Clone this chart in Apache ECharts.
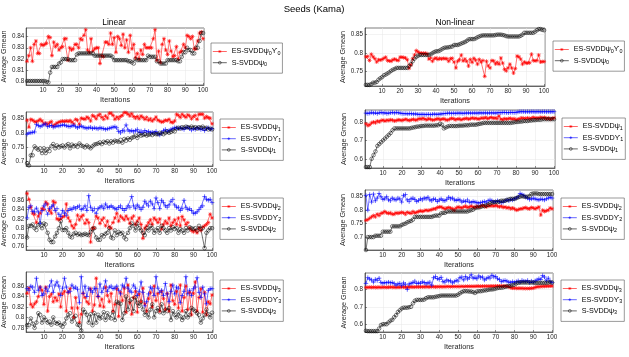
<!DOCTYPE html>
<html>
<head>
<meta charset="utf-8">
<title>Seeds (Kama)</title>
<script src="https://cdn.jsdelivr.net/npm/echarts@6/dist/echarts.min.js"></script>
<style>
    body { margin: 0; background: #fff; }
    #chart_div { width: 629px; height: 357px; }
</style>
</head>
<body>
<div id="chart_div"></div>
<script>
// x ticks (iterations)
const iterTicks = [10, 20, 30, 40, 50, 60, 70, 80, 90, 100];

// y tick labels for each panel
const yTicksA = [0.8, 0.81, 0.82, 0.83, 0.84];
const yTicksB = [0.75, 0.8, 0.85];
const yTicksC = [0.7, 0.75, 0.8, 0.85];
const yTicksD = [0.6, 0.7, 0.8];
const yTicksE = [0.76, 0.78, 0.8, 0.82, 0.84, 0.86];
const yTicksF = [0.7, 0.75, 0.8, 0.85];
const yTicksG = [0.78, 0.8, 0.82, 0.84, 0.86];
const yTicksH = [0.6, 0.7, 0.8];

// Linear, psi0
const linPsi0ES = [.818,.823,.830,.818,.833,.836,.825,.825,.833,.832,
    .833,.834,.840,.839,.823,.835,.831,.833,.828,.830,
    .831,.838,.838,.819,.830,.828,.829,.833,.833,.830,
    .838,.837,.841,.846,.828,.826,.838,.827,.829,.830,
    .830,.816,.823,.822,.835,.835,.833,.843,.833,.839,
    .826,.840,.838,.832,.842,.830,.837,.826,.841,.829,
    .833,.821,.825,.820,.828,.824,.833,.830,.830,.830,
    .830,.838,.846,.819,.827,.817,.833,.838,.828,.824,
    .836,.827,.822,.823,.831,.820,.826,.827,.833,.830,
    .841,.840,.838,.840,.829,.829,.836,.843,.844,.838];
const linPsi0S = [.8005,.8005,.8005,.8005,.8005,.8005,.8005,.8005,.8005,.8005,
    .8005,.7998,.7993,.808,.813,.813,.813,.813,.816,.817,
    .820,.820,.820,.820,.819,.819,.819,.819,.824,.825,
    .825,.825,.825,.825,.825,.825,.825,.825,.823,.823,
    .823,.823,.823,.823,.823,.823,.823,.823,.822,.819,
    .819,.819,.819,.819,.819,.819,.819,.818,.818,.817,
    .816,.820,.819,.819,.819,.819,.819,.819,.823,.822,
    .822,.822,.822,.818,.818,.816,.816,.816,.816,.819,
    .819,.819,.819,.819,.819,.818,.818,.822,.826,.826,
    .830,.828,.828,.825,.825,.830,.830,.836,.843,.843];

// Non-linear, psi0
const nlPsi0ES = [.790,.791,.780,.797,.790,.785,.776,.782,.781,.783,
    .786,.789,.780,.779,.778,.782,.784,.781,.780,.789,
    .789,.788,.787,.782,.759,.768,.785,.795,.807,.803,
    .800,.800,.799,.800,.798,.784,.787,.778,.785,.787,
    .783,.786,.784,.786,.785,.785,.778,.785,.786,.776,
    .760,.778,.782,.795,.779,.784,.778,.765,.783,.775,
    .786,.781,.770,.783,.776,.780,.737,.778,.765,.760,
    .780,.779,.771,.775,.770,.787,.773,.756,.752,.760,
    .770,.760,.746,.758,.792,.790,.784,.770,.776,.773,
    .773,.774,.797,.780,.779,.780,.795,.776,.777,.777];
const nlPsi0S = [.714,.714,.714,.716,.720,.720,.722,.728,.732,.735,
    .740,.742,.745,.748,.752,.755,.757,.760,.760,.760,
    .760,.760,.760,.760,.765,.770,.778,.785,.790,.793,
    .795,.795,.795,.795,.795,.795,.797,.800,.803,.805,
    .805,.807,.810,.813,.815,.815,.816,.817,.818,.822,
    .822,.822,.824,.826,.828,.830,.833,.837,.838,.838,
    .838,.840,.843,.845,.847,.848,.848,.848,.848,.848,
    .848,.848,.849,.850,.850,.850,.849,.848,.846,.845,
    .845,.845,.845,.845,.845,.845,.847,.850,.855,.855,
    .855,.855,.855,.855,.858,.862,.865,.865,.863,.862];

// Linear, psi1
const linPsi1ES = [.845,.820,.848,.845,.840,.838,.843,.848,.842,.832,
    .835,.830,.836,.840,.825,.830,.835,.838,.840,.842,
    .840,.843,.840,.844,.838,.832,.848,.845,.830,.852,
    .850,.848,.856,.852,.842,.862,.858,.850,.862,.866,
    .855,.848,.860,.852,.870,.870,.862,.848,.856,.850,
    .858,.862,.872,.872,.866,.860,.868,.858,.852,.858,
    .850,.860,.855,.848,.855,.845,.850,.842,.848,.856,
    .845,.842,.838,.840,.845,.843,.848,.838,.836,.842,
    .866,.862,.855,.866,.860,.855,.864,.860,.850,.858,
    .862,.848,.866,.866,.866,.852,.858,.854,.852,.832];
const linPsi1T = [.795,.800,.800,.802,.803,.830,.826,.822,.825,.830,
    .832,.822,.825,.826,.820,.822,.825,.824,.826,.828,
    .828,.825,.823,.822,.825,.827,.822,.818,.822,.824,
    .820,.818,.816,.818,.820,.815,.818,.816,.814,.818,
    .816,.815,.812,.814,.816,.818,.820,.822,.818,.805,
    .800,.808,.806,.828,.810,.805,.808,.804,.808,.812,
    .802,.806,.800,.808,.802,.805,.800,.802,.800,.805,
    .796,.792,.800,.808,.812,.805,.808,.812,.815,.818,
    .818,.815,.818,.815,.812,.818,.820,.815,.810,.815,
    .812,.818,.815,.812,.815,.808,.815,.818,.812,.815];
const linPsi1S = [.692,.684,.720,.720,.752,.745,.740,.745,.728,.745,
    .728,.742,.735,.752,.760,.745,.755,.748,.752,.755,
    .748,.755,.760,.745,.758,.752,.755,.750,.762,.755,
    .752,.748,.755,.750,.745,.752,.758,.760,.762,.766,
    .760,.768,.765,.770,.762,.770,.765,.772,.770,.768,
    .775,.765,.778,.772,.780,.775,.782,.785,.790,.782,
    .795,.790,.792,.795,.790,.793,.795,.792,.797,.795,
    .795,.800,.798,.795,.800,.805,.800,.803,.808,.805,
    .815,.818,.815,.820,.818,.822,.820,.818,.822,.818,
    .820,.815,.820,.818,.822,.815,.818,.812,.815,.812];

// Non-linear, psi1
const nlPsi1ES = [.790,.780,.785,.795,.800,.795,.805,.800,.808,.810,
    .805,.810,.808,.812,.810,.805,.808,.812,.810,.808,
    .812,.815,.810,.808,.812,.815,.810,.812,.818,.815,
    .820,.815,.812,.818,.815,.810,.812,.815,.818,.812,
    .815,.818,.812,.810,.815,.820,.818,.812,.815,.818,
    .812,.815,.818,.820,.815,.818,.822,.818,.820,.815,
    .818,.822,.820,.825,.818,.822,.825,.820,.822,.818,
    .832,.815,.812,.818,.815,.818,.820,.815,.818,.812,
    .815,.818,.822,.820,.818,.822,.818,.820,.825,.822,
    .820,.822,.825,.822,.825,.818,.822,.815,.820,.822];
const nlPsi1T = [.848,.846,.848,.852,.848,.850,.846,.850,.852,.848,
    .850,.846,.848,.850,.852,.848,.852,.850,.848,.846,
    .845,.846,.844,.846,.845,.843,.844,.842,.841,.841,
    .842,.840,.841,.842,.840,.842,.843,.841,.842,.843,
    .844,.846,.846,.848,.848,.846,.848,.846,.848,.848,
    .848,.846,.848,.848,.849,.848,.848,.849,.848,.848,
    .850,.848,.849,.850,.848,.850,.849,.850,.848,.850,
    .851,.850,.852,.852,.851,.850,.852,.852,.851,.852,
    .854,.856,.856,.856,.855,.856,.855,.856,.856,.855,
    .856,.856,.855,.856,.856,.855,.856,.855,.856,.856];
const nlPsi1S = [.555,.555,.555,.600,.620,.640,.670,.680,.690,.700,
    .710,.720,.730,.740,.755,.765,.765,.765,.765,.765,
    .765,.765,.765,.765,.768,.770,.772,.775,.775,.778,
    .778,.780,.780,.780,.780,.780,.780,.782,.782,.790,
    .785,.765,.770,.775,.778,.778,.778,.778,.778,.780,
    .780,.780,.782,.782,.782,.785,.785,.785,.785,.788,
    .790,.792,.795,.795,.795,.795,.795,.795,.795,.795,
    .795,.795,.795,.795,.795,.795,.795,.796,.798,.800,
    .800,.802,.802,.805,.805,.805,.808,.808,.810,.810,
    .812,.812,.812,.815,.815,.815,.815,.815,.815,.815];

// Linear, psi2
const linPsi2ES = [.875,.862,.845,.832,.830,.812,.826,.832,.842,.840,
    .856,.852,.838,.832,.858,.855,.820,.818,.820,.824,
    .826,.852,.822,.815,.805,.800,.808,.828,.818,.825,
    .828,.810,.818,.812,.770,.800,.800,.826,.822,.810,
    .818,.822,.805,.815,.802,.800,.812,.822,.832,.815,
    .826,.822,.818,.826,.820,.810,.822,.826,.808,.815,
    .822,.808,.778,.800,.805,.812,.818,.808,.822,.818,
    .812,.820,.798,.808,.815,.810,.822,.805,.812,.818,
    .808,.822,.805,.825,.818,.808,.812,.800,.795,.792,
    .795,.790,.800,.795,.802,.805,.808,.812,.830,.822];
const linPsi2T = [.822,.845,.848,.836,.835,.843,.835,.810,.838,.848,
    .852,.830,.842,.846,.850,.838,.842,.830,.825,.838,
    .832,.828,.838,.842,.840,.845,.842,.846,.848,.840,
    .842,.848,.838,.870,.845,.838,.842,.832,.842,.845,
    .848,.842,.852,.845,.845,.848,.845,.842,.840,.845,
    .848,.842,.838,.842,.848,.845,.868,.848,.842,.850,
    .845,.840,.845,.858,.852,.848,.858,.852,.842,.865,
    .855,.842,.860,.855,.848,.845,.850,.858,.862,.850,
    .845,.845,.838,.842,.860,.845,.840,.842,.838,.832,
    .832,.835,.840,.845,.848,.868,.862,.860,.862,.855];
const linPsi2S = [.780,.805,.805,.808,.800,.796,.806,.810,.800,.810,
    .808,.790,.775,.770,.770,.782,.790,.800,.815,.796,
    .796,.800,.790,.782,.780,.788,.790,.786,.788,.785,
    .786,.788,.786,.785,.792,.798,.800,.780,.775,.775,
    .785,.782,.788,.790,.800,.780,.778,.795,.785,.792,
    .788,.790,.780,.776,.790,.800,.810,.805,.795,.810,
    .800,.795,.790,.785,.800,.795,.805,.800,.790,.795,
    .800,.790,.805,.800,.795,.790,.800,.795,.802,.798,
    .800,.790,.798,.795,.790,.800,.795,.802,.800,.798,
    .800,.795,.805,.798,.800,.757,.790,.795,.800,.800];

// Non-linear, psi2
const nlPsi2ES = [.762,.765,.770,.775,.780,.775,.785,.780,.788,.790,
    .795,.790,.788,.790,.785,.785,.790,.788,.790,.792,
    .790,.785,.792,.790,.788,.795,.790,.792,.795,.798,
    .795,.798,.800,.798,.800,.802,.805,.805,.810,.812,
    .812,.808,.805,.808,.810,.808,.805,.800,.808,.812,
    .810,.808,.812,.815,.810,.812,.815,.812,.810,.815,
    .812,.815,.818,.815,.812,.818,.815,.818,.815,.818,
    .815,.812,.815,.810,.812,.808,.810,.805,.808,.805,
    .800,.802,.805,.805,.808,.810,.806,.805,.810,.808,
    .805,.808,.812,.782,.800,.795,.798,.800,.808,.805];
const nlPsi2T = [.855,.800,.858,.830,.860,.835,.845,.862,.850,.840,
    .842,.850,.838,.835,.845,.840,.838,.845,.842,.830,
    .855,.858,.838,.832,.842,.845,.840,.832,.836,.842,
    .838,.845,.842,.848,.838,.835,.842,.840,.832,.838,
    .842,.836,.835,.840,.848,.842,.845,.838,.836,.840,
    .838,.830,.835,.832,.838,.830,.828,.832,.830,.828,
    .826,.828,.830,.832,.828,.835,.838,.835,.830,.832,
    .835,.832,.828,.830,.835,.838,.835,.840,.838,.842,
    .845,.850,.862,.858,.855,.848,.845,.840,.842,.845,
    .842,.840,.838,.842,.840,.838,.842,.845,.848,.845];
const nlPsi2S = [.652,.700,.700,.700,.700,.705,.705,.705,.705,.720,
    .720,.720,.720,.720,.740,.740,.740,.740,.740,.745,
    .748,.750,.755,.758,.760,.765,.775,.775,.775,.775,
    .775,.775,.775,.775,.775,.775,.778,.780,.780,.780,
    .788,.790,.790,.795,.795,.795,.795,.795,.795,.795,
    .795,.795,.795,.795,.795,.798,.800,.802,.808,.810,
    .810,.812,.815,.815,.818,.820,.825,.828,.830,.830,
    .830,.832,.835,.835,.835,.838,.840,.842,.842,.842,
    .845,.848,.850,.852,.850,.850,.850,.852,.860,.862,
    .862,.862,.860,.860,.860,.860,.860,.860,.860,.860];

// Linear, psi3
const linPsi3ES = [.846,.856,.825,.820,.826,.830,.840,.858,.852,.825,
    .858,.812,.840,.845,.830,.838,.832,.845,.820,.845,
    .850,.812,.848,.855,.818,.800,.838,.818,.790,.806,
    .846,.838,.830,.826,.855,.812,.824,.875,.840,.822,
    .835,.820,.858,.842,.830,.846,.812,.825,.855,.802,
    .848,.832,.856,.810,.862,.828,.806,.838,.850,.810,
    .845,.830,.856,.826,.812,.836,.848,.820,.860,.832,
    .846,.812,.850,.836,.815,.846,.812,.862,.832,.825,
    .850,.818,.862,.812,.838,.860,.815,.848,.805,.846,
    .868,.812,.838,.855,.810,.848,.805,.830,.826,.843];
const linPsi3T = [.855,.852,.860,.858,.848,.875,.852,.858,.842,.845,
    .856,.850,.860,.870,.848,.862,.868,.860,.842,.856,
    .875,.858,.848,.850,.862,.856,.858,.854,.828,.878,
    .846,.860,.840,.856,.852,.848,.856,.855,.840,.864,
    .848,.856,.870,.850,.858,.860,.855,.856,.860,.852,
    .845,.862,.858,.875,.856,.850,.848,.862,.856,.842,
    .850,.868,.848,.822,.830,.845,.858,.855,.842,.878,
    .856,.848,.852,.842,.865,.845,.830,.850,.862,.845,
    .858,.856,.828,.842,.850,.878,.845,.852,.842,.855,
    .858,.876,.848,.838,.858,.845,.826,.852,.855,.855];
const linPsi3S = [.785,.785,.798,.788,.780,.790,.808,.805,.790,.800,
    .795,.790,.792,.786,.800,.790,.788,.790,.785,.782,
    .788,.798,.805,.808,.792,.800,.803,.786,.785,.775,
    .815,.810,.805,.790,.806,.785,.808,.790,.805,.798,
    .800,.810,.795,.808,.800,.798,.810,.795,.830,.828,
    .826,.795,.808,.840,.815,.832,.835,.812,.838,.828,
    .822,.830,.815,.805,.810,.800,.815,.825,.800,.812,
    .818,.810,.825,.808,.815,.812,.818,.795,.812,.805,
    .800,.810,.802,.795,.800,.812,.800,.805,.818,.815,
    .812,.808,.805,.790,.798,.805,.815,.806,.800,.809];

// Non-linear, psi3
const nlPsi3ES = [.812,.812,.813,.812,.813,.812,.812,.813,.812,.813,
    .813,.812,.813,.814,.813,.813,.812,.813,.813,.814,
    .814,.813,.813,.814,.815,.814,.814,.815,.815,.815,
    .815,.815,.816,.815,.815,.816,.816,.815,.816,.816,
    .816,.816,.816,.817,.817,.816,.817,.817,.817,.817,
    .817,.818,.817,.818,.818,.818,.818,.818,.818,.819,
    .819,.818,.819,.819,.819,.819,.819,.820,.819,.820,
    .820,.820,.820,.820,.820,.818,.815,.810,.808,.808,
    .807,.807,.807,.807,.806,.806,.806,.806,.807,.808,
    .812,.815,.816,.817,.818,.818,.819,.819,.820,.820];
const nlPsi3T = [.835,.868,.860,.855,.842,.858,.852,.865,.840,.835,
    .840,.838,.842,.838,.840,.835,.825,.832,.835,.822,
    .838,.830,.800,.832,.835,.840,.848,.835,.838,.836,
    .845,.840,.832,.838,.842,.825,.868,.875,.862,.858,
    .870,.845,.842,.855,.848,.850,.838,.845,.852,.848,
    .868,.872,.855,.875,.860,.868,.885,.865,.870,.862,
    .878,.868,.872,.855,.862,.870,.865,.882,.872,.875,
    .862,.858,.845,.850,.852,.848,.842,.840,.845,.840,
    .845,.850,.842,.852,.848,.846,.852,.840,.848,.842,
    .850,.855,.862,.858,.880,.872,.850,.865,.846,.840];
const nlPsi3S = [.562,.560,.560,.560,.560,.560,.560,.575,.595,.600,
    .600,.600,.610,.620,.625,.640,.652,.670,.680,.690,
    .695,.695,.695,.698,.700,.720,.735,.740,.740,.740,
    .740,.742,.750,.755,.755,.755,.755,.758,.760,.762,
    .765,.765,.765,.765,.765,.765,.765,.765,.765,.770,
    .778,.785,.790,.790,.790,.788,.788,.785,.780,.788,
    .790,.790,.792,.795,.795,.798,.800,.800,.802,.805,
    .808,.810,.810,.812,.815,.818,.820,.822,.825,.828,
    .835,.838,.840,.840,.840,.840,.840,.840,.840,.840,
    .838,.838,.838,.838,.838,.838,.838,.840,.842,.840];

const FONT = 'Liberation Sans';
const AXIS_COLOR = '#262626';

// marker styles (MATLAB r-*, b-+, k-o)
const styles = {
    red: { color: '#ff0000', fill: '#ff0000', symbol: 'path://M0,-5L0,5M-5,0L5,0M-3.6,-3.6L3.6,3.6M-3.6,3.6L3.6,-3.6', size: 4, border: 0.6 },
    blue: { color: '#0000ff', fill: '#0000ff', symbol: 'path://M0,-5L0,5M-5,0L5,0', size: 4.5, border: 0.6 },
    black: { color: '#000000', fill: 'rgba(0,0,0,0)', symbol: 'path://M5,0A5,5 0 1 1 -5,0A5,5 0 1 1 5,0Z', size: 3.6, border: 0.5 }
};

// each legend label: list of [text, subscript]
const panels = [
    { id: 'A', grid: [24, 28, 180, 57], y: [0.797, 0.8475], ticks: yTicksA, legend: [211, 43],
      series: [
        { key: 'red', data: linPsi0ES, label: [['ES-SVDDψ', '0'], ['ϒ', '0']] },
        { key: 'black', data: linPsi0S, label: [['S-SVDDψ', '0']] }
      ] },
    { id: 'B', grid: [365, 28, 180, 58], y: [0.711, 0.868], ticks: yTicksB, legend: [553, 41],
      series: [
        { key: 'red', data: nlPsi0ES, label: [['ES-SVDDψ', '0'], ['ϒ', '0']] },
        { key: 'black', data: nlPsi0S, label: [['S-SVDDψ', '0']] }
      ] },
    { id: 'C', grid: [24, 112, 189, 54], y: [0.682, 0.874], ticks: yTicksC, legend: [220, 119],
      series: [
        { key: 'red', data: linPsi1ES, label: [['ES-SVDDψ', '1']] },
        { key: 'blue', data: linPsi1T, label: [['ES-SVDDϒ', '1']] },
        { key: 'black', data: linPsi1S, label: [['S-SVDDψ', '1']] }
      ] },
    { id: 'D', grid: [365, 110, 190, 58], y: [0.55, 0.865], ticks: yTicksD, legend: [562, 118],
      series: [
        { key: 'red', data: nlPsi1ES, label: [['ES-SVDDψ', '1']] },
        { key: 'blue', data: nlPsi1T, label: [['ES-SVDDϒ', '1']] },
        { key: 'black', data: nlPsi1S, label: [['S-SVDDψ', '1']] }
      ] },
    { id: 'E', grid: [24, 191, 189, 59], y: [0.753, 0.880], ticks: yTicksE, legend: [220, 198],
      series: [
        { key: 'red', data: linPsi2ES, label: [['ES-SVDDψ', '2']] },
        { key: 'blue', data: linPsi2T, label: [['ES-SVDDϒ', '2']] },
        { key: 'black', data: linPsi2S, label: [['S-SVDDψ', '2']] }
      ] },
    { id: 'F', grid: [365, 190, 188, 60], y: [0.652, 0.875], ticks: yTicksF, legend: [561, 198],
      series: [
        { key: 'red', data: nlPsi2ES, label: [['ES-SVDDψ', '2']] },
        { key: 'blue', data: nlPsi2T, label: [['ES-SVDDϒ', '2']] },
        { key: 'black', data: nlPsi2S, label: [['S-SVDDψ', '2']] }
      ] },
    { id: 'G', grid: [24, 272, 189, 60], y: [0.772, 0.887], ticks: yTicksG, legend: [220, 280],
      series: [
        { key: 'red', data: linPsi3ES, label: [['ES-SVDDψ', '3']] },
        { key: 'blue', data: linPsi3T, label: [['ES-SVDDϒ', '3']] },
        { key: 'black', data: linPsi3S, label: [['S-SVDDψ', '3']] }
      ] },
    { id: 'H', grid: [365, 273, 188, 59], y: [0.555, 0.895], ticks: yTicksH, legend: [561, 280],
      series: [
        { key: 'red', data: nlPsi3ES, label: [['ES-SVDDψ', '3']] },
        { key: 'blue', data: nlPsi3T, label: [['ES-SVDDϒ', '3']] },
        { key: 'black', data: nlPsi3S, label: [['S-SVDDψ', '3']] }
      ] }
];

const labelRich = {};
panels.forEach(p => p.series.forEach(s => {
    s.name = p.id + ':' + s.label.map(seg => seg.join('')).join('');
    labelRich[s.name] = s.label.map(seg => '{n|' + seg[0] + '}{s|' + seg[1] + '}').join('');
}));

const grids = [], xAxes = [], yAxes = [], series = [], legends = [];
panels.forEach((p, i) => {
    grids.push({
        left: p.grid[0], top: p.grid[1], width: p.grid[2], height: p.grid[3],
        show: true, borderColor: AXIS_COLOR, borderWidth: 0.6, backgroundColor: '#fff'
    });
    xAxes.push({
        type: 'value', gridIndex: i, min: 0.5, max: 100.5,
        name: 'Iterations', nameLocation: 'middle', nameGap: 11,
        nameTextStyle: { fontFamily: FONT, fontSize: 7.3, color: AXIS_COLOR },
        axisLine: { lineStyle: { color: AXIS_COLOR, width: 0.6 } },
        axisTick: { inside: true, length: 2, customValues: iterTicks, lineStyle: { color: AXIS_COLOR, width: 0.5 } },
        axisLabel: { customValues: iterTicks, fontFamily: FONT, fontSize: 6.3, color: AXIS_COLOR, margin: 2 },
        splitLine: { show: true, lineStyle: { color: '#e6e6e6', width: 0.5 } }
    });
    yAxes.push({
        type: 'value', gridIndex: i, min: p.y[0], max: p.y[1],
        name: 'Average Gmean', nameLocation: 'middle', nameGap: 17,
        nameTextStyle: { fontFamily: FONT, fontSize: 7.2, color: AXIS_COLOR },
        axisLine: { show: true, lineStyle: { color: AXIS_COLOR, width: 0.6 } },
        axisTick: { show: true, inside: true, length: 2, customValues: p.ticks, lineStyle: { color: AXIS_COLOR, width: 0.5 } },
        axisLabel: {
            customValues: p.ticks, fontFamily: FONT, fontSize: 6.3, color: AXIS_COLOR, margin: 2,
            formatter: v => String(+v.toFixed(2))
        },
        splitLine: { show: true, lineStyle: { color: '#e6e6e6', width: 0.5 } }
    });
    p.series.forEach(s => {
        const st = styles[s.key];
        series.push({
            name: s.name, type: 'line', xAxisIndex: i, yAxisIndex: i,
            data: s.data.map((v, k) => [k + 1, v]),
            symbol: st.symbol, symbolSize: st.size, showAllSymbol: true,
            lineStyle: { color: st.color, width: 0.55 },
            itemStyle: { color: st.fill, borderColor: st.color, borderWidth: st.border },
            emphasis: { disabled: true }
        });
    });
    legends.push({
        left: p.legend[0], top: p.legend[1], orient: 'vertical',
        data: p.series.map(s => ({
            name: s.name,
            itemStyle: { color: styles[s.key].fill, borderColor: styles[s.key].color, borderWidth: styles[s.key].border }
        })),
        formatter: name => labelRich[name],
        selectedMode: false,
        itemWidth: 14, itemHeight: 3.5, itemGap: 2.2,
        padding: [4, 2, 6, 1.5],
        lineStyle: { width: 0.6 },
        borderColor: '#555', borderWidth: 0.6, backgroundColor: '#fff',
        textStyle: {
            fontFamily: FONT, color: '#000',
            rich: {
                n: { fontFamily: FONT, fontSize: 7.2, lineHeight: 11, color: '#000' },
                s: { fontFamily: FONT, fontSize: 5.4, lineHeight: 7, padding: [4, 0, 0, 0], color: '#000' }
            }
        }
    });
});

const chart = echarts.init(document.getElementById('chart_div'));
chart.setOption({
    animation: false,
    backgroundColor: '#fff',
    title: [
        { text: 'Seeds (Kama)', left: 314, top: 4, padding: 0, textAlign: 'center',
          textStyle: { fontFamily: FONT, fontSize: 9.5, fontWeight: 'normal', color: '#000' } },
        { text: 'Linear', left: 114, top: 18.5, padding: 0, textAlign: 'center',
          textStyle: { fontFamily: FONT, fontSize: 8.5, fontWeight: 'normal', color: '#000' } },
        { text: 'Non-linear', left: 455, top: 18.5, padding: 0, textAlign: 'center',
          textStyle: { fontFamily: FONT, fontSize: 8.5, fontWeight: 'normal', color: '#000' } }
    ],
    grid: grids,
    xAxis: xAxes,
    yAxis: yAxes,
    legend: legends,
    series: series
});
</script>
</body>
</html>
